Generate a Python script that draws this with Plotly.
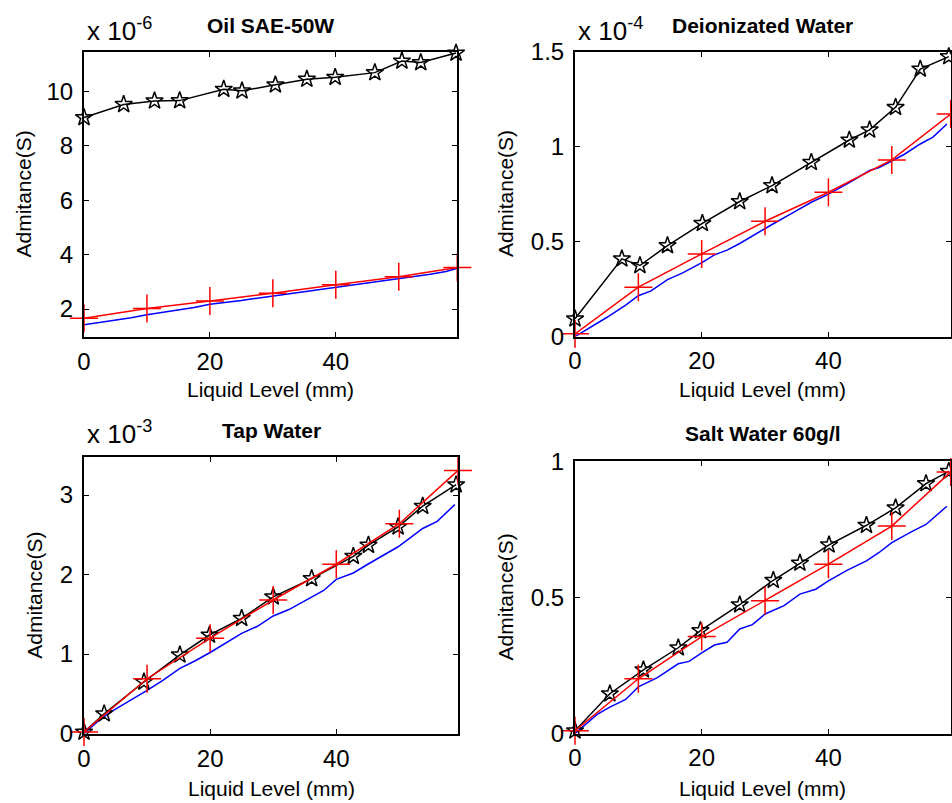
import plotly.graph_objects as go

# ---------------- data ----------------
# Oil SAE-50W  (x 1e-6 S)
oil_star_x = [0, 6.3, 11.2, 15.2, 22.2, 25.1, 30.4, 35.4, 39.9, 46.2, 50.5, 53.5, 59.1]
oil_star_y = [9.05, 9.53, 9.66, 9.67, 10.09, 10.03, 10.25, 10.46, 10.53, 10.70, 11.13, 11.07, 11.42]
oil_red_x = [0, 10, 20, 30, 40, 50, 59.3]
oil_red_y = [1.66, 2.02, 2.30, 2.58, 2.89, 3.19, 3.53]
oil_blue_x = [0, 2.5, 5, 7.5, 10, 12.5, 15, 17.5, 20, 22.5, 25, 27.5, 30, 32.5, 35, 37.5, 40, 42.5, 45, 47.5, 50, 52.5, 55, 57.5, 59.3]
oil_blue_y = [1.42, 1.50, 1.60, 1.68, 1.79, 1.88, 1.98, 2.06, 2.18, 2.24, 2.31, 2.40, 2.48, 2.55, 2.63, 2.71, 2.80, 2.86, 2.95, 3.03, 3.11, 3.20, 3.28, 3.38, 3.50]
oil_scale = 1e-6

# Deionizated Water (x 1e-4 S)
dei_star_x = [0, 7.4, 10.25, 14.6, 20.1, 26.0, 31.1, 37.3, 43.3, 46.5, 50.6, 54.5, 59.0]
dei_star_y = [0.093, 0.409, 0.374, 0.479, 0.596, 0.711, 0.795, 0.917, 1.035, 1.088, 1.207, 1.409, 1.474]
dei_red_x = [0, 10, 20, 30, 40, 50, 59.3]
dei_red_y = [0.014, 0.26, 0.435, 0.607, 0.76, 0.93, 1.172]
dei_blue_x = [0, 2, 5, 8, 10, 12, 14.6, 17, 20.1, 22, 24, 26, 28, 31.1, 34, 37.3, 40, 43.3, 46.5, 48, 50.6, 52, 54.5, 56.5, 58.7]
dei_blue_y = [0.0, 0.04, 0.10, 0.165, 0.215, 0.24, 0.30, 0.335, 0.39, 0.43, 0.455, 0.49, 0.53, 0.59, 0.645, 0.707, 0.75, 0.81, 0.874, 0.89, 0.935, 0.96, 1.014, 1.05, 1.119]
dei_scale = 1e-4

# Tap Water (x 1e-3 S)
tap_star_x = [0, 3.2, 9.5, 15.2, 19.9, 25.0, 30.0, 36.1, 42.7, 45.1, 49.8, 53.7, 59.0]
tap_star_y = [0.02, 0.25, 0.65, 0.99, 1.24, 1.45, 1.72, 1.95, 2.23, 2.37, 2.60, 2.86, 3.13]
tap_red_x = [0, 10, 20, 30, 40, 50, 59.3]
tap_red_y = [0.02, 0.69, 1.20, 1.68, 2.13, 2.64, 3.31]
tap_blue_x = [0, 2, 4, 6, 8, 10, 12.5, 15.2, 17.5, 20, 22.5, 25, 27.5, 30, 32.5, 36.1, 38, 40, 42.7, 45, 47.5, 49.8, 51.5, 53.7, 56, 58.8]
tap_blue_y = [0.0, 0.14, 0.26, 0.36, 0.45, 0.545, 0.67, 0.82, 0.91, 1.02, 1.14, 1.26, 1.35, 1.48, 1.56, 1.72, 1.80, 1.94, 2.02, 2.13, 2.25, 2.35, 2.45, 2.58, 2.67, 2.88]
tap_scale = 1e-3

# Salt Water 60g/l (S)
salt_star_x = [0, 5.5, 10.8, 16.3, 19.8, 26.0, 31.3, 35.5, 40.1, 46.0, 50.6, 55.4, 59.0]
salt_star_y = [0.01, 0.146, 0.234, 0.315, 0.378, 0.473, 0.563, 0.626, 0.693, 0.765, 0.829, 0.918, 0.963]
salt_red_x = [0, 10, 20, 30, 40, 50, 59.3]
salt_red_y = [0.01, 0.201, 0.356, 0.488, 0.622, 0.762, 0.961]
salt_blue_x = [0, 2, 3.5, 5.5, 8, 10, 13, 16.3, 18, 20, 22, 24, 26, 28, 30, 33, 35.5, 38, 40, 43, 46, 48, 50, 53, 55.4, 58.7]
salt_blue_y = [0.0, 0.04, 0.07, 0.097, 0.125, 0.171, 0.205, 0.256, 0.265, 0.296, 0.325, 0.335, 0.384, 0.40, 0.439, 0.47, 0.512, 0.53, 0.561, 0.60, 0.634, 0.665, 0.701, 0.74, 0.768, 0.835]
salt_scale = 1.0

titles = ["Oil SAE-50W", "Deionizated Water", "Tap Water", "Salt Water 60g/l"]
exponents = ["-6", "-4", "-3", None]
x_ticks = [0, 20, 40]
y_ticks = [[2, 4, 6, 8, 10], [0, 0.5, 1, 1.5], [0, 1, 2, 3], [0, 0.5, 1]]
y_ticktext = [["2", "4", "6", "8", "10"], ["0", "0.5", "1", "1.5"], ["0", "1", "2", "3"], ["0", "0.5", "1"]]
y_ranges = [[0.96, 11.47], [0, 1.5], [-0.005, 3.475], [0, 1.0]]
x_range = [0, 59.3]
x_label = "Liquid Level (mm)"
y_label = "Admitance(S)"

# ---------------- layout geometry (pixels) ----------------
W, H = 952, 803
# left, right, top, bottom of each axes box
boxes = [(84, 457.3, 51.7, 337.3), (575, 950.7, 51.7, 336.5),
         (84, 458.0, 457.3, 734.0), (575, 950.7, 461.3, 733.5)]

FONT = "Liberation Sans, Arial, Helvetica, sans-serif"

fig = go.Figure()

panels = [
    (oil_star_x, oil_star_y, oil_red_x, oil_red_y, oil_blue_x, oil_blue_y, oil_scale),
    (dei_star_x, dei_star_y, dei_red_x, dei_red_y, dei_blue_x, dei_blue_y, dei_scale),
    (tap_star_x, tap_star_y, tap_red_x, tap_red_y, tap_blue_x, tap_blue_y, tap_scale),
    (salt_star_x, salt_star_y, salt_red_x, salt_red_y, salt_blue_x, salt_blue_y, salt_scale),
]

annotations = []
for i, (sx, sy, rx, ry, bx, by, sc) in enumerate(panels):
    n = "" if i == 0 else str(i + 1)
    xa, ya = "x" + n, "y" + n
    fig.add_trace(go.Scatter(x=bx, y=[v * sc for v in by], mode="lines",
                             line=dict(color="#0000ff", width=1.5),
                             xaxis=xa, yaxis=ya, showlegend=False))
    fig.add_trace(go.Scatter(x=sx, y=[v * sc for v in sy], mode="lines+markers",
                             line=dict(color="#000000", width=1.5),
                             marker=dict(symbol="star-open", size=13, color="#000000",
                                         line=dict(width=1.5, color="#000000")),
                             cliponaxis=False, xaxis=xa, yaxis=ya, showlegend=False))
    fig.add_trace(go.Scatter(x=rx, y=[v * sc for v in ry], mode="lines+markers",
                             line=dict(color="#ff0000", width=1.5),
                             marker=dict(symbol="cross-thin-open", size=20, color="#ff0000",
                                         line=dict(width=1.5, color="#ff0000")),
                             cliponaxis=False, xaxis=xa, yaxis=ya, showlegend=False))

    l, r, t, b = boxes[i]
    axis_common = dict(showline=True, linecolor="black", linewidth=2, mirror="allticks",
                       ticks="inside", ticklen=5, tickwidth=1.2, tickcolor="black",
                       showgrid=False, zeroline=False, automargin=False,
                       tickfont=dict(family=FONT, size=24, color="black"))
    fig.layout["xaxis" + n] = dict(axis_common, domain=[l / W, r / W], range=x_range,
                                   tickvals=x_ticks, anchor=ya, ticklabelstandoff=2)
    fig.layout["yaxis" + n] = dict(axis_common, domain=[1 - b / H, 1 - t / H],
                                   range=[v * sc for v in y_ranges[i]],
                                   tickvals=[v * sc for v in y_ticks[i]],
                                   ticktext=y_ticktext[i], anchor=xa, ticklabelstandoff=4)

    cx = (l + r) / 2
    cy = (t + b) / 2
    # title
    ty = [25, 25, 430, 433][i]
    annotations.append(dict(text="<b>" + titles[i] + "</b>", x=cx / W, y=1 - ty / H,
                            xref="paper", yref="paper", xanchor="center", yanchor="middle",
                            showarrow=False, font=dict(family=FONT, size=21, color="black")))
    # x label
    annotations.append(dict(text=x_label, x=cx / W, y=1 - ([390, 390, 788, 788][i]) / H,
                            xref="paper", yref="paper", xanchor="center", yanchor="middle",
                            showarrow=False, font=dict(family=FONT, size=21, color="black")))
    # y label
    yx = [23, 505, 35, 505][i]
    annotations.append(dict(text=y_label, x=yx / W, y=1 - cy / H, textangle=-90,
                            xref="paper", yref="paper", xanchor="center", yanchor="middle",
                            showarrow=False, font=dict(family=FONT, size=21, color="black")))
    # exponent
    if exponents[i] is not None:
        ey = [29, 29, 432, 0][i]
        annotations.append(dict(text="x 10<sup>" + exponents[i] + "</sup>", x=(l + 1) / W,
                                y=1 - ey / H, xref="paper", yref="paper",
                                xanchor="left", yanchor="middle", showarrow=False,
                                font=dict(family=FONT, size=26, color="black")))

fig.update_layout(width=W, height=H, margin=dict(l=0, r=0, t=0, b=0, pad=0),
                  autosize=False, plot_bgcolor="white", paper_bgcolor="white",
                  annotations=annotations)

fig.write_html("out.html", config={"displayModeBar": False},
               post_script="document.body.style.margin='0';document.body.style.overflow='hidden';")
